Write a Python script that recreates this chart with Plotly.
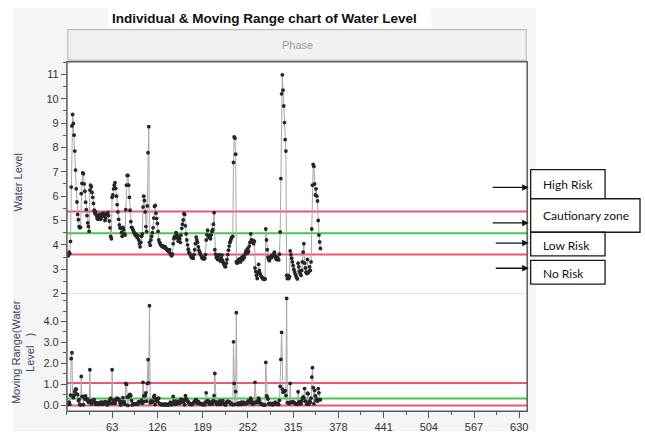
import plotly.graph_objects as go

# Daily water level observations (individuals)
water_level = [
    3.60, 3.55, 3.70, 3.65, 4.14, 6.37, 8.88, 9.35, 8.98, 8.50,
    7.85, 7.07, 6.30, 5.76, 5.25, 5.03, 4.75, 4.70, 4.72, 6.10,
    6.52, 6.95, 6.92, 6.50, 6.20, 5.75, 5.45, 5.20, 4.90, 4.75,
    4.55, 6.25, 6.45, 6.38, 6.15, 5.95, 5.70, 5.42, 5.30, 5.35,
    5.22, 5.10, 5.05, 5.15, 5.25, 5.20, 5.05, 5.12, 5.28, 5.22,
    5.30, 5.18, 5.00, 5.10, 5.25, 5.28, 5.32, 5.20, 4.98, 4.70,
    4.35, 4.25, 5.95, 6.05, 6.30, 6.45, 6.55, 6.32, 6.00, 5.65,
    5.35, 5.05, 4.82, 4.70, 4.68, 4.50, 4.35, 4.72, 4.62, 4.45,
    4.40, 5.45, 6.45, 6.85, 6.85, 6.45, 5.95, 5.42, 4.95, 4.72,
    4.70, 4.62, 4.55, 4.48, 4.40, 4.45, 4.35, 4.30, 4.38, 4.20,
    4.05, 3.92, 4.10, 4.35, 4.45, 5.55, 6.00, 5.82, 5.35, 4.75,
    4.55, 5.60, 7.78, 8.85, 4.10, 3.98, 4.20, 4.35, 4.50, 4.70,
    5.10, 5.58, 5.62, 5.30, 5.08, 4.88, 4.55, 4.20, 4.10, 4.05,
    3.98, 3.95, 3.92, 3.96, 3.90, 3.88, 3.92, 3.85, 3.82, 3.78,
    3.75, 3.72, 3.80, 3.65, 3.58, 3.55, 3.62, 4.05, 4.25, 4.35,
    4.30, 4.50, 4.42, 4.28, 4.15, 4.35, 4.25, 4.10, 4.40, 4.68,
    4.85, 5.02, 5.28, 5.25, 4.78, 4.45, 4.20, 4.00, 3.82, 3.70,
    3.65, 3.58, 3.50, 3.47, 3.55, 3.45, 3.60, 3.80, 4.05, 4.32,
    4.20, 4.10, 3.92, 3.78, 3.70, 3.62, 3.55, 3.47, 3.44, 3.50,
    3.42, 3.45, 3.60, 4.20, 4.42, 4.60, 4.38, 4.30, 4.35, 4.25,
    4.40, 4.55, 4.62, 4.85, 5.32, 3.80, 3.62, 3.50, 3.45, 3.40,
    3.55, 3.60, 3.38, 3.33, 3.45, 3.58, 3.35, 3.25, 3.19, 3.12,
    3.10, 3.25, 3.40, 3.60, 3.78, 3.95, 4.10, 4.18, 4.27, 4.32,
    4.35, 7.38, 8.43, 8.38, 7.72, 3.30, 3.25, 3.35, 3.30, 3.42,
    3.38, 3.30, 3.45, 3.50, 3.40, 3.55, 3.48, 3.60, 3.70, 3.78,
    3.65, 3.85, 3.72, 3.95, 4.10, 4.45, 4.20, 4.12, 4.18, 4.05,
    4.15, 3.05, 2.90, 2.75, 2.62, 2.85, 3.20, 2.95, 2.82, 2.75,
    2.70, 2.65, 2.60, 2.62, 2.58, 2.60, 4.65, 4.20, 3.80, 3.50,
    3.40, 3.35, 3.45, 3.52, 3.48, 3.58, 3.55, 3.62, 3.70, 3.55,
    3.45, 3.40, 3.50, 3.42, 3.38, 3.62, 4.53, 6.72, 10.20, 10.98,
    10.35, 9.70, 9.02, 8.32, 7.85, 2.75, 2.62, 2.75, 2.62, 2.70,
    3.75, 3.60, 3.45, 3.30, 3.15, 3.00, 2.90, 2.80, 2.72, 2.65,
    2.60, 3.25, 3.10, 2.92, 2.82, 2.75, 2.95, 3.30, 3.70, 4.05,
    3.25, 3.05, 2.88, 2.82, 3.40, 2.85, 2.90, 3.10, 2.95, 3.30,
    4.65, 6.45, 7.30, 7.22, 6.50, 6.05, 6.30, 6.00, 5.80, 5.00,
    4.40, 4.12, 3.85,
]
observation = list(range(1, len(water_level) + 1))

# Moving range of consecutive observations
moving_range = [abs(b - a) for a, b in zip(water_level[:-1], water_level[1:])]
mr_observation = observation[1:]

# Control limits
indiv_ucl, indiv_cl, indiv_lcl = 5.37, 4.48, 3.60
mr_ucl, mr_cl, mr_lcl = 1.07, 0.33, 0.00

x_tick_values = [63, 126, 189, 252, 315, 378, 441, 504, 567, 630]
indiv_tick_values = [2, 3, 4, 5, 6, 7, 8, 9, 10, 11]
mr_tick_values = [0, 1, 2, 3, 4]

risk_zones = ["High Risk", "Cautionary zone", "Low Risk", "No Risk"]

W, H = 645, 437


def px(x):
    return x / W


def py(y):
    return 1 - y / H


LEFT, RIGHT = 67, 528
TOP, MID, BOTTOM = 62.5, 297.7, 417

RED = "#f2566b"
GREEN = "#46c94a"
TICK_FONT = dict(family="Liberation Sans, Arial, sans-serif", size=11, color="#333333")

fig = go.Figure()

point_style = dict(
    mode="lines+markers",
    line=dict(color="#a8a8a8", width=1),
    marker=dict(size=3.8, color="#262626"),
    hoverinfo="x+y",
    showlegend=False,
)
fig.add_trace(go.Scatter(x=observation, y=water_level, xaxis="x", yaxis="y", **point_style))
fig.add_trace(go.Scatter(x=mr_observation, y=moving_range, xaxis="x", yaxis="y2", **point_style))

shapes = []


def rect(x0, y0, x1, y1, fill=None, line_color=None, line_width=0, layer="below"):
    shapes.append(dict(
        type="rect", xref="paper", yref="paper",
        x0=px(x0), x1=px(x1), y0=py(y1), y1=py(y0),
        fillcolor=fill if fill else "rgba(0,0,0,0)",
        line=dict(color=line_color or "rgba(0,0,0,0)", width=line_width),
        layer=layer,
    ))


# panel backgrounds
rect(13, 8, 537, 437, fill="#f5f5f5")
rect(108, 8, 432, 29, fill="#ffffff")
rect(LEFT, TOP, RIGHT, BOTTOM, fill="#ffffff")
# "Phase" header strip
rect(68, 30, 527, 61, fill="#f1f1f1", line_color="#bdbdbd", line_width=1.2)

# divider between the two charts
shapes.append(dict(type="line", xref="paper", yref="paper",
                   x0=px(LEFT), x1=px(RIGHT), y0=py(MID), y1=py(MID),
                   line=dict(color="#e2e2e2", width=1), layer="below"))

# control limit lines
for val, col, yref in [
    (indiv_ucl, RED, "y"), (indiv_cl, GREEN, "y"), (indiv_lcl, RED, "y"),
    (mr_ucl, RED, "y2"), (mr_cl, GREEN, "y2"), (mr_lcl, RED, "y2"),
]:
    shapes.append(dict(type="line", xref="x domain", yref=yref,
                       x0=0, x1=1, y0=val, y1=val,
                       line=dict(color=col, width=2), layer="below"))

# outer frame of the chart area
rect(LEFT, TOP, RIGHT, BOTTOM, line_color="#5a5a5a", line_width=1.5, layer="above")

# risk zone boxes
zone_boxes = [(531.5, 172, 606, 201.5), (531.5, 201.5, 641, 235.5),
              (531.5, 235.5, 606, 259.5), (531.5, 264, 606, 288)]
for (x0, y0, x1, y1) in zone_boxes:
    rect(x0, y0, x1, y1, fill="#ffffff", line_color="#1a1a1a", line_width=1.3, layer="above")

annotations = [
    dict(text="<b>Individual & Moving Range chart of Water Level</b>",
         x=px(265), y=py(18.5), xref="paper", yref="paper", showarrow=False,
         xanchor="center", yanchor="middle",
         font=dict(family="Liberation Sans, Arial, sans-serif", size=13.5, color="#111111")),
    dict(text="Phase", x=px(297.5), y=py(45.5), xref="paper", yref="paper", showarrow=False,
         xanchor="center", yanchor="middle",
         font=dict(family="Liberation Sans, Arial, sans-serif", size=11, color="#9a9a9a")),
    dict(text="Water Level", x=px(18), y=py(185), xref="paper", yref="paper",
         showarrow=False, textangle=-90, xanchor="center", yanchor="middle",
         font=dict(family="Liberation Sans, Arial, sans-serif", size=11, color="#3f4562")),
    dict(text="Moving Range(Water<br>Level   )", x=px(23), y=py(357), xref="paper", yref="paper",
         showarrow=False, textangle=-90, xanchor="center", yanchor="middle",
         font=dict(family="Liberation Sans, Arial, sans-serif", size=11, color="#3f4562")),
]

label_y = [187, 218, 248.5, 277]
for name, yc in zip(risk_zones, label_y):
    annotations.append(dict(text=name, x=px(542), y=py(yc), xref="paper", yref="paper",
                            xanchor="left", yanchor="middle", showarrow=False,
                            font=dict(family="Lato, Open Sans, sans-serif", size=12, color="#111111")))

arrows = [(190, 492), (226, 492), (246.5, 495), (272, 495)]
for (ya, xs) in arrows:
    tip = 529.5
    annotations.append(dict(text="", x=px(tip), y=py(ya), xref="paper", yref="paper",
                            ax=xs - tip, ay=0, showarrow=True, arrowhead=2,
                            arrowsize=1, arrowwidth=1.3, arrowcolor="#111111", standoff=0))

axis_common = dict(showgrid=False, zeroline=False, showline=False,
                   ticks="outside", tickcolor="#555555", tickfont=TICK_FONT)

fig.update_layout(
    width=W, height=H, autosize=False,
    margin=dict(l=0, r=0, t=0, b=0),
    paper_bgcolor="#ffffff", plot_bgcolor="rgba(0,0,0,0)",
    xaxis=dict(domain=[px(LEFT), px(RIGHT)], range=[0, 641], anchor="y2",
               tickmode="array", tickvals=x_tick_values, ticklen=6,
               minor=dict(ticks="outside", ticklen=3, dtick=31.5, tick0=0, tickcolor="#555555"),
               **axis_common),
    yaxis=dict(domain=[py(MID), py(TOP)], range=[1.999, 11.52], anchor="x",
               tickmode="array", tickvals=indiv_tick_values, ticklen=5,
               minor=dict(ticks="outside", ticklen=3, dtick=0.5, tick0=0, tickcolor="#555555"),
               **axis_common),
    yaxis2=dict(domain=[py(BOTTOM), py(MID)], range=[-0.28, 5.33], anchor="x",
                tickmode="array", tickvals=mr_tick_values, tickformat=".1f", ticklen=5,
                minor=dict(ticks="outside", ticklen=3, dtick=0.5, tick0=0, tickcolor="#555555"),
                **axis_common),
    shapes=shapes,
    annotations=annotations,
)

fig.write_html("out.html")
